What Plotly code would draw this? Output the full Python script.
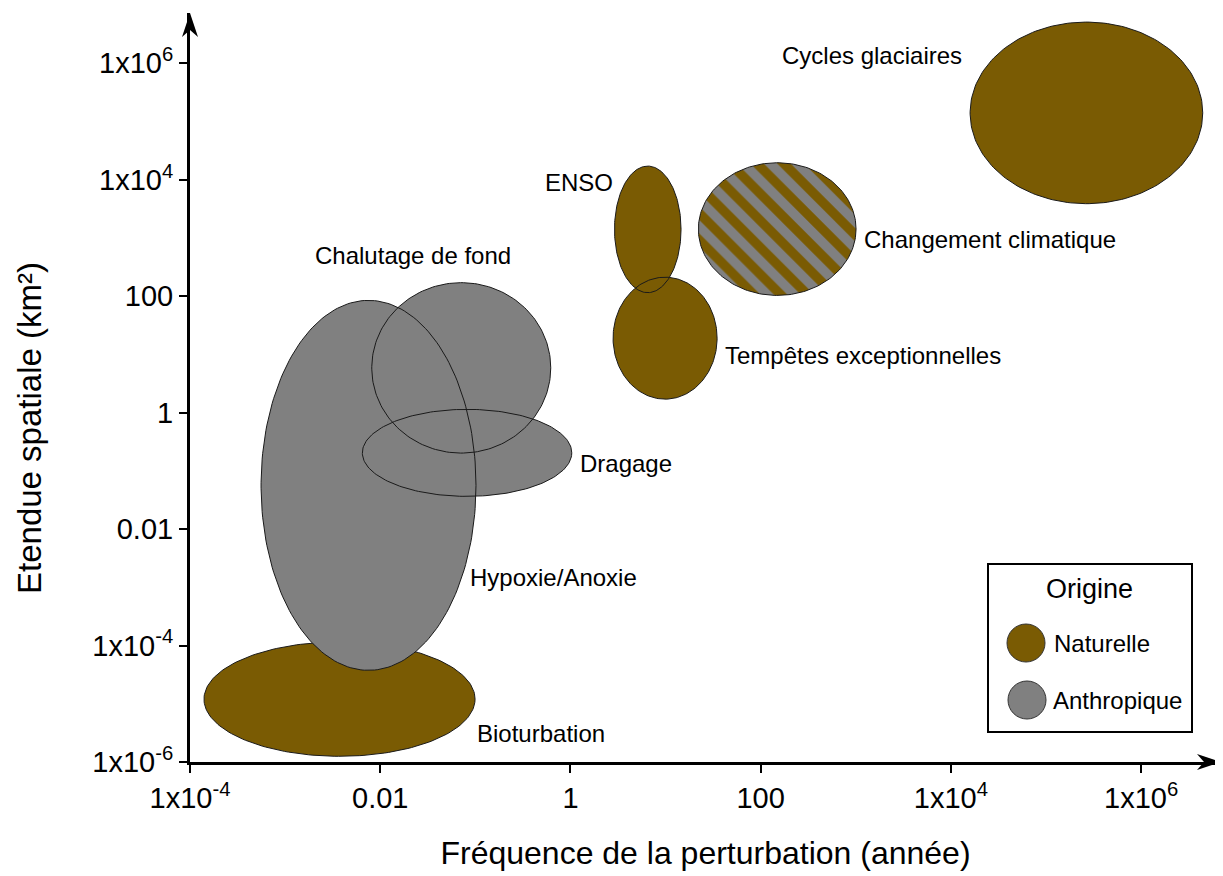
import numpy as np
import plotly.graph_objects as go


# --------------------------------------------------------
# DATA  (ellipses in log10 space: centre and half-span in decades)
# --------------------------------------------------------

names = [
    "Bioturbation",
    "Hypoxie/Anoxie",
    "Chalutage de fond",
    "Dragage",
    "ENSO",
    "Tempêtes exceptionnelles",
    "Changement climatique",
    "Cycles glaciaires",
]

origin = [
    "Naturelle",
    "Anthropique",
    "Anthropique",
    "Anthropique",
    "Naturelle",
    "Naturelle",
    "Mixte",
    "Naturelle",
]

freq_center = [-2.428, -2.123, -1.148, -1.087, 0.813, 0.995, 2.174, 5.425]
freq_halfspan = [1.425, 1.130, 0.941, 1.101, 0.350, 0.547, 0.829, 1.223]
area_center = [-4.920, -1.250, 0.767, -0.692, 3.145, 1.277, 3.150, 5.145]
area_halfspan = [0.982, 3.176, 1.463, 0.747, 1.087, 1.047, 1.139, 1.559]

# label anchors (log10 x, log10 y) and horizontal anchor
label_x = [-1.003, -1.077, -1.660, 0.080, 0.469, 1.605, 3.066, 2.204]
label_y = [-5.512, -2.824, 2.699, -0.872, 3.947, 0.982, 2.968, 6.132]
label_anchor = ["left", "left", "center", "left", "right", "left", "left", "left"]

x_tickvals = [1e-4, 1e-2, 1, 100, 1e4, 1e6]
x_ticktext = ["1x10<sup>-4</sup>", "0.01", "1", "100", "1x10<sup>4</sup>", "1x10<sup>6</sup>"]
y_tickvals = [1e-6, 1e-4, 1e-2, 1, 100, 1e4, 1e6]
y_ticktext = ["1x10<sup>-6</sup>", "1x10<sup>-4</sup>", "0.01", "1", "100",
              "1x10<sup>4</sup>", "1x10<sup>6</sup>"]

BROWN = "#7A5B03"
GRAY = "#808080"
EDGE = "#1a1a1a"
FONT = "Liberation Sans, Arial, sans-serif"

colors = {"Naturelle": BROWN, "Anthropique": GRAY, "Mixte": BROWN}


def ellipse(i, n=200):
    t = np.linspace(0, 2 * np.pi, n)
    x = 10 ** (freq_center[i] + freq_halfspan[i] * np.cos(t))
    y = 10 ** (area_center[i] + area_halfspan[i] * np.sin(t))
    return x, y


fig = go.Figure()


def add_fill(i, with_line):
    x, y = ellipse(i)
    kw = dict(
        x=x, y=y, mode="lines", fill="toself",
        fillcolor=colors[origin[i]],
        line=dict(color=EDGE, width=1 if with_line else 0),
        name=names[i], showlegend=False, hoverinfo="name",
    )
    if origin[i] == "Mixte":
        kw["fillpattern"] = dict(
            shape="\\", bgcolor=BROWN, fgcolor=GRAY,
            size=19, solidity=0.5, fillmode="replace",
        )
    fig.add_trace(go.Scatter(**kw))


def add_outline(i):
    x, y = ellipse(i)
    fig.add_trace(go.Scatter(
        x=x, y=y, mode="lines",
        line=dict(color=EDGE, width=1),
        showlegend=False, hoverinfo="skip",
    ))


# bottom layer
add_fill(0, True)

# anthropogenic group: fills first, outlines on top
for i in [1, 2, 3]:
    add_fill(i, False)
for i in [1, 2, 3]:
    add_outline(i)

# ENSO / storms
for i in [4, 5]:
    add_fill(i, False)
for i in [4, 5]:
    add_outline(i)

add_fill(6, True)
add_fill(7, True)


# --------------------------------------------------------
# LABELS
# --------------------------------------------------------

for i in range(len(names)):
    fig.add_annotation(
        x=label_x[i], y=label_y[i], text=names[i],
        showarrow=False, xanchor=label_anchor[i], yanchor="middle",
        font=dict(family=FONT, size=24, color="black"),
    )


# --------------------------------------------------------
# LAYOUT  (page body adds an 8 px offset)
# --------------------------------------------------------

OFF = 8
W, H = 1223 - OFF, 876 - OFF
L, R, T = 190 - OFF, 2, 13 - OFF
PW, PH = 1031, 749
B = H - T - PH


def px(xp):
    return (xp - OFF - L) / PW


def py(yp):
    return (T + PH - (yp - OFF)) / PH


shapes = [
    # axis arrowheads (pixel paths anchored at axis ends)
    dict(type="path", xref="paper", yref="paper", xsizemode="pixel", ysizemode="pixel",
         xanchor=1, yanchor=0, path="M 0,0 L -24,8 L -17,0 L -24,-8 Z",
         fillcolor="black", line=dict(width=0)),
    dict(type="path", xref="paper", yref="paper", xsizemode="pixel", ysizemode="pixel",
         xanchor=0, yanchor=1, path="M 0,0 L -8,-24 L 0,-17 L 8,-24 Z",
         fillcolor="black", line=dict(width=0)),
    # legend box
    dict(type="rect", xref="paper", yref="paper",
         x0=px(988), x1=px(1192), y0=py(732), y1=py(564),
         line=dict(color="black", width=2)),
    dict(type="circle", xref="paper", yref="paper",
         x0=px(1007), x1=px(1045), y0=py(662), y1=py(624),
         fillcolor=BROWN, line=dict(color="#333333", width=1)),
    dict(type="circle", xref="paper", yref="paper",
         x0=px(1008), x1=px(1046), y0=py(719), y1=py(681),
         fillcolor=GRAY, line=dict(color="#333333", width=1)),
]

legend_text = [
    dict(x=px(1089), y=py(589), text="Origine", xanchor="center", size=27),
    dict(x=px(1052), y=py(643), text="Naturelle", xanchor="left", size=24),
    dict(x=px(1051), y=py(700), text="Anthropique", xanchor="left", size=24),
]
for a in legend_text:
    fig.add_annotation(
        xref="paper", yref="paper", x=a["x"], y=a["y"], text=a["text"],
        showarrow=False, xanchor=a["xanchor"], yanchor="middle",
        font=dict(family=FONT, size=a["size"], color="black"),
    )

# y-axis title sits a little below the axis centre in the reference
fig.add_annotation(
    xref="paper", yref="paper", x=px(29), y=py(428),
    text="Etendue spatiale (km²)", textangle=-90,
    showarrow=False, xanchor="center", yanchor="middle",
    font=dict(family=FONT, size=33, color="black"),
)

axis_common = dict(
    type="log",
    showgrid=False,
    zeroline=False,
    showline=True,
    linecolor="black",
    linewidth=3,
    ticks="outside",
    ticklen=8,
    tickwidth=2,
    tickcolor="black",
    tickfont=dict(family=FONT, size=29, color="black"),
    automargin=False,
)

fig.update_xaxes(
    **axis_common,
    range=[-4, 6.84],
    tickvals=x_tickvals,
    ticktext=x_ticktext,
    title=dict(text="Fréquence de la perturbation (année)", standoff=29,
               font=dict(family=FONT, size=32, color="black")),
)

fig.update_yaxes(
    **axis_common,
    range=[-6, 6.86],
    tickvals=y_tickvals,
    ticktext=y_ticktext,
)

fig.update_layout(
    width=W,
    height=H,
    margin=dict(l=L, r=R, t=T, b=B),
    plot_bgcolor="white",
    paper_bgcolor="white",
    shapes=shapes,
    showlegend=False,
    font=dict(family=FONT),
)

fig.write_html("out.html")
